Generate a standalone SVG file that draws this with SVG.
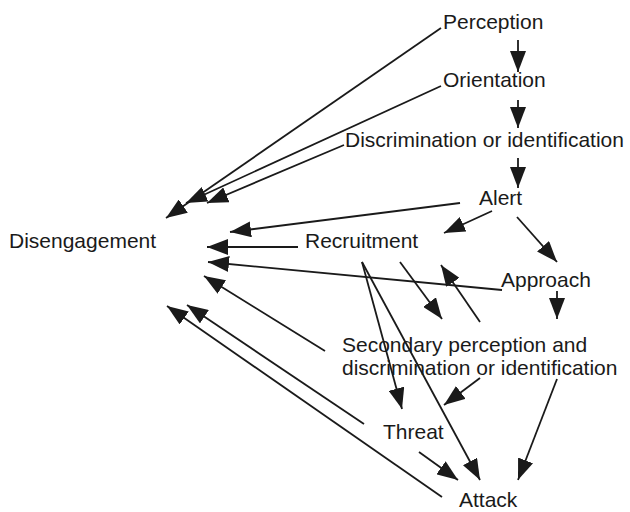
<svg xmlns="http://www.w3.org/2000/svg" width="630" height="512" viewBox="0 0 630 512">
<defs>
<style>
text{font-family:"Liberation Sans",Arial,sans-serif;font-size:21px;fill:#1a1a1a}
.c line{stroke:#1a1a1a;stroke-width:1.8;fill:none;marker-end:url(#ah)}
</style>
<marker id="ah" markerUnits="userSpaceOnUse" markerWidth="21" markerHeight="16" refX="21" refY="8" orient="auto" viewBox="0 0 21 16">
<path d="M0,0 L21,8 L0,16 z" fill="#1a1a1a"/>
</marker>
</defs>
<rect width="630" height="512" fill="#fff"/>
<g id="perception"><text x="443" y="29">Perception</text></g>
<g id="orientation"><text x="443" y="87">Orientation</text></g>
<g id="discrimination"><text x="345" y="147">Discrimination or identification</text></g>
<g id="alert"><text x="479" y="205">Alert</text></g>
<g id="disengagement"><text x="9" y="248">Disengagement</text></g>
<g id="recruitment"><text x="305" y="248">Recruitment</text></g>
<g id="approach"><text x="501" y="287">Approach</text></g>
<g id="secondary"><text x="342" y="352">Secondary perception and</text><text x="342" y="375">discrimination or identification</text></g>
<g id="threat"><text x="383" y="439">Threat</text></g>
<g id="attack"><text x="459" y="507">Attack</text></g>
<g class="c" id="connectors">
<line x1="518" y1="40" x2="518" y2="72"/>
<line x1="518" y1="100" x2="518" y2="128"/>
<line x1="518" y1="158" x2="518" y2="188"/>
<line x1="441" y1="28" x2="166" y2="218"/>
<line x1="441" y1="86" x2="186" y2="203"/>
<line x1="344" y1="145" x2="207" y2="203"/>
<line x1="460" y1="203" x2="230" y2="232"/>
<line x1="492" y1="211" x2="444" y2="233"/>
<line x1="517" y1="217" x2="557" y2="262"/>
<line x1="298" y1="247" x2="207" y2="247"/>
<line x1="502" y1="290" x2="208" y2="262"/>
<line x1="400" y1="262" x2="442" y2="319"/>
<line x1="480" y1="322" x2="441" y2="265"/>
<line x1="557" y1="291" x2="557" y2="319"/>
<line x1="362" y1="262" x2="402" y2="409"/>
<line x1="362" y1="262" x2="480" y2="480"/>
<line x1="480" y1="378" x2="444" y2="405"/>
<line x1="557" y1="379" x2="518" y2="480"/>
<line x1="419" y1="452" x2="458" y2="480"/>
<line x1="325" y1="351" x2="204" y2="276"/>
<line x1="364" y1="424" x2="187" y2="305"/>
<line x1="442" y1="497" x2="167" y2="306"/>
</g>
</svg>
